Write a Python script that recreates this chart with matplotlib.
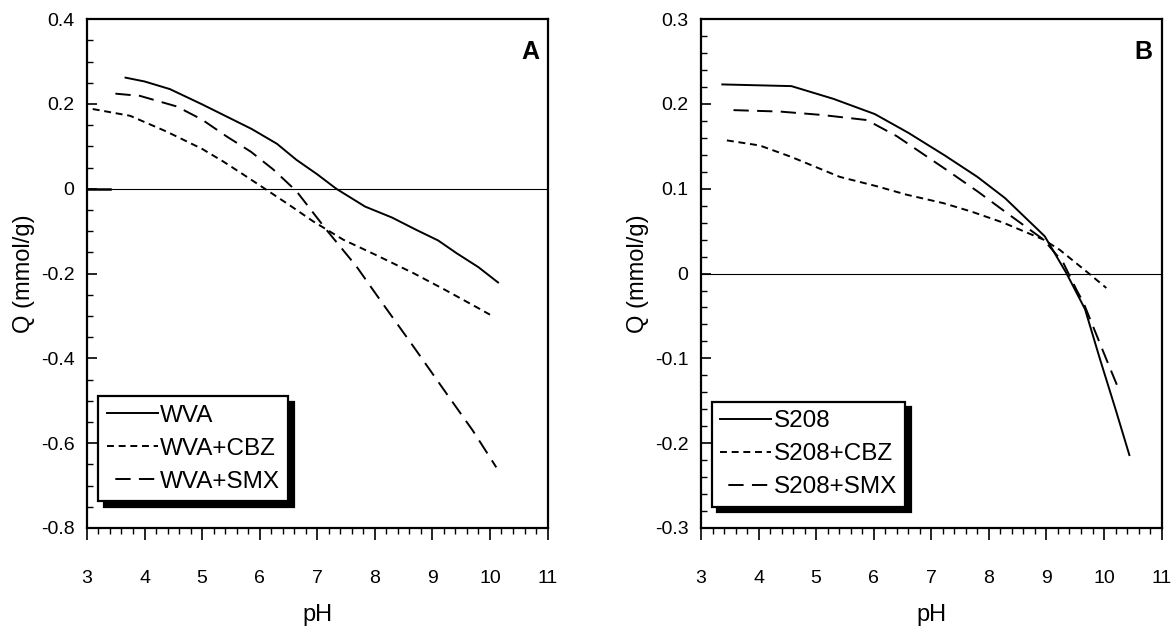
import numpy as np
import matplotlib
matplotlib.use("Agg")
import matplotlib.pyplot as plt
from matplotlib.ticker import MultipleLocator

plt.rcParams['font.family'] = ['Liberation Sans', 'DejaVu Sans']
plt.rcParams['lines.scale_dashes'] = False

# panel A data (pH, Q in mmol/g)
wva_ph = [3.67, 4.0, 4.44, 5.0, 5.86, 6.3, 6.64, 7.0, 7.33, 7.83, 8.3, 8.72, 9.1, 9.42, 9.8, 10.14]
wva_q = [0.262, 0.253, 0.235, 0.199, 0.141, 0.106, 0.068, 0.034, 0.0, -0.042, -0.068, -0.097, -0.122, -0.152, -0.185, -0.221]
cbz_a_ph = [3.1, 3.75, 4.38, 5.0, 5.37, 5.7, 6.09, 6.5, 6.93, 7.45, 8.0, 8.67, 9.2, 9.79, 10.0]
cbz_a_q = [0.188, 0.172, 0.135, 0.094, 0.064, 0.035, 0.0, -0.037, -0.077, -0.12, -0.155, -0.199, -0.237, -0.281, -0.297]
smx_a_ph = [3.35, 3.92, 4.56, 5.0, 5.43, 5.85, 6.24, 6.64, 7.16, 7.68, 8.09, 8.67, 9.24, 9.7, 10.11]
smx_a_q = [0.226, 0.219, 0.194, 0.163, 0.123, 0.087, 0.045, -0.006, -0.097, -0.183, -0.262, -0.372, -0.482, -0.57, -0.657]
stub_a_ph = [3.0, 3.4]
stub_a_q = [0.0, 0.0]

# panel B data
s208_ph = [3.37, 4.57, 5.3, 6.02, 6.6, 7.24, 7.8, 8.28, 8.97, 9.35, 9.67, 9.93, 10.2, 10.44]
s208_q = [0.223, 0.221, 0.206, 0.188, 0.166, 0.139, 0.114, 0.089, 0.044, 0.0, -0.042, -0.101, -0.16, -0.214]
cbz_b_ph = [3.45, 4.02, 4.55, 5.41, 6.05, 6.57, 7.21, 7.7, 8.25, 8.95, 9.23, 9.72, 10.04]
cbz_b_q = [0.157, 0.151, 0.138, 0.114, 0.103, 0.093, 0.083, 0.073, 0.06, 0.04, 0.028, 0.001, -0.017]
smx_b_ph = [3.42, 4.37, 5.1, 5.88, 6.4, 7.27, 7.8, 8.36, 8.95, 9.29, 9.52, 9.64, 10.04, 10.24]
smx_b_q = [0.193, 0.191, 0.187, 0.181, 0.162, 0.122, 0.097, 0.069, 0.04, 0.013, -0.019, -0.034, -0.101, -0.134]

short_ls = (0, (5, 3.4))
long_ls = (11, (11, 6))

fig = plt.figure(figsize=(11.75, 6.29), dpi=100)
axA = fig.add_axes([0.074, 0.1606, 0.392, 0.809])
axB = fig.add_axes([0.5966, 0.1606, 0.392, 0.809])


def style_axis(ax, ylim, ymaj, ymin):
    ax.set_xlim(3, 11)
    ax.set_ylim(*ylim)
    ax.xaxis.set_major_locator(MultipleLocator(1))
    ax.xaxis.set_minor_locator(MultipleLocator(0.2))
    ax.yaxis.set_major_locator(MultipleLocator(ymaj))
    ax.yaxis.set_minor_locator(MultipleLocator(ymin))
    ax.tick_params(axis='x', which='major', direction='out', length=8.5, width=1.2,
                   pad=22, labelsize=14)
    ax.tick_params(axis='x', which='minor', direction='out', length=4.5, width=1.0)
    ax.tick_params(axis='y', which='major', direction='in', length=7, width=1.2,
                   pad=9, labelsize=14)
    ax.tick_params(axis='y', which='minor', direction='in', length=4.5, width=1.0)
    for s in ax.spines.values():
        s.set_linewidth(1.6)
    ax.axhline(0, color='black', lw=0.8, zorder=1)
    ax.set_xlabel('pH', fontsize=17, labelpad=12)
    ax.set_ylabel('Q (mmol/g)', fontsize=17, labelpad=4)


style_axis(axA, (-0.8, 0.4), 0.2, 0.05)
style_axis(axB, (-0.3, 0.3), 0.1, 0.02)

axA.yaxis.set_major_formatter(lambda v, p: '0' if abs(v) < 1e-9 else f'{v:.1f}')
axB.yaxis.set_major_formatter(lambda v, p: '0' if abs(v) < 1e-9 else f'{v:.1f}')

axA.plot(stub_a_ph, stub_a_q, color='black', lw=1.8)
axA.plot(wva_ph, wva_q, color='black', lw=1.4, label='WVA')
axA.plot(cbz_a_ph, cbz_a_q, color='black', lw=1.4, ls=short_ls, label='WVA+CBZ')
axA.plot(smx_a_ph, smx_a_q, color='black', lw=1.4, ls=long_ls, label='WVA+SMX')

axB.plot(s208_ph, s208_q, color='black', lw=1.4, label='S208')
axB.plot(cbz_b_ph, cbz_b_q, color='black', lw=1.4, ls=short_ls, label='S208+CBZ')
axB.plot(smx_b_ph, smx_b_q, color='black', lw=1.4, ls=long_ls, label='S208+SMX')

axA.text(0.983, 0.935, 'A', transform=axA.transAxes, ha='right', va='center',
         fontsize=18, fontweight='bold')
axB.text(0.98, 0.935, 'B', transform=axB.transAxes, ha='right', va='center',
         fontsize=18, fontweight='bold')

for ax, anchor in ((axA, (0.024, 0.053)), (axB, (0.023, 0.042))):
    leg = ax.legend(loc='lower left', bbox_to_anchor=anchor, borderaxespad=0,
                    fontsize=17.5, frameon=True, fancybox=False,
                    shadow={'color': 'black', 'alpha': 1.0, 'ox': 4, 'oy': -4},
                    handlelength=2.1, handletextpad=0.1, labelspacing=0.45,
                    borderpad=0.35)
    leg.get_frame().set_edgecolor('black')
    leg.get_frame().set_linewidth(1.6)

fig.savefig('out.png', dpi=100)
